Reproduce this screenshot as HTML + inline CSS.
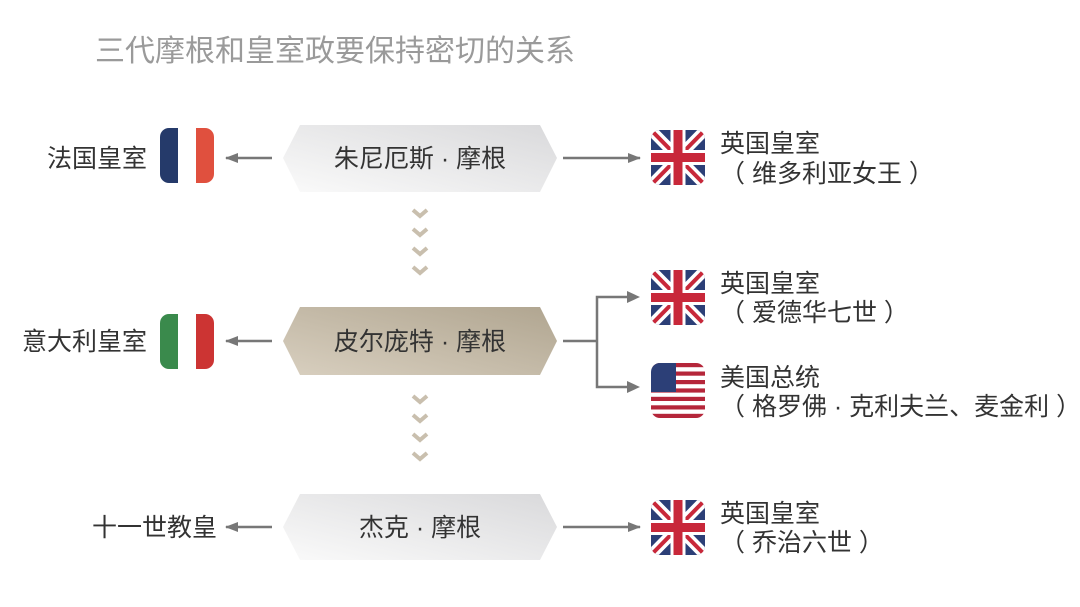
<!DOCTYPE html>
<html><head><meta charset="utf-8"><style>
body{margin:0;background:#fff;}
svg text{font-family:"Liberation Sans","Noto Sans CJK SC",sans-serif;fill:#333;}
</style></head><body>
<svg width="1080" height="602" viewBox="0 0 1080 602" xmlns="http://www.w3.org/2000/svg">
<defs>
<linearGradient id="g1" x1="0" y1="1" x2="1" y2="0"><stop offset="0" stop-color="#fafafa"/><stop offset="1" stop-color="#d9d9db"/></linearGradient>
<linearGradient id="g2" x1="0" y1="1" x2="1" y2="0"><stop offset="0" stop-color="#d8cfbf"/><stop offset="1" stop-color="#b0a590"/></linearGradient>
<marker id="ah" markerWidth="13" markerHeight="10" refX="12" refY="5" orient="auto" markerUnits="userSpaceOnUse"><path d="M0,0 L13,5 L0,10 Z" fill="#777"/></marker>
<clipPath id="cf"><rect x="0" y="0" width="54" height="55" rx="9"/></clipPath>
<g id="uk"><g clip-path="url(#cf)"><rect width="54" height="55" fill="#2c3f77"/>
<path d="M0,0L54,55M54,0L0,55" stroke="#fff" stroke-width="11"/>
<path d="M0,0L54,55M54,0L0,55" stroke="#c8283a" stroke-width="4"/>
<path d="M27,0V55M0,27.5H54" stroke="#fff" stroke-width="15"/>
<path d="M27,0V55M0,27.5H54" stroke="#c8283a" stroke-width="9"/></g></g>
<g id="chev"><path d="M-7,-4 L0,2 L7,-4" fill="none" stroke="#c9bfae" stroke-width="4"/></g>
</defs>
<text x="95" y="61" font-size="30" style="fill:#9a9a9a">三代摩根和皇室政要保持密切的关系</text>

<polygon points="283,158 300,125 540,125 557,158 540,192 300,192" fill="url(#g1)"/>
<polygon points="283,341 300,307 540,307 557,341 540,375 300,375" fill="url(#g2)"/>
<polygon points="283,527 300,494 540,494 557,527 540,560 300,560" fill="url(#g1)"/>
<g font-size="25">
<text x="420" y="167" text-anchor="middle">朱尼厄斯 · 摩根</text>
<text x="420" y="350" text-anchor="middle">皮尔庞特 · 摩根</text>
<text x="420" y="536" text-anchor="middle">杰克 · 摩根</text>
</g>

<use href="#chev" x="420" y="214"/><use href="#chev" x="420" y="233"/><use href="#chev" x="420" y="252"/><use href="#chev" x="420" y="271"/>
<use href="#chev" x="420" y="400"/><use href="#chev" x="420" y="419"/><use href="#chev" x="420" y="438"/><use href="#chev" x="420" y="457"/>

<g stroke="#777" stroke-width="2.5" fill="none">
<line x1="272" y1="158" x2="226" y2="158" marker-end="url(#ah)"/>
<line x1="272" y1="341" x2="226" y2="341" marker-end="url(#ah)"/>
<line x1="272" y1="527" x2="226" y2="527" marker-end="url(#ah)"/>
<line x1="563" y1="158" x2="640" y2="158" marker-end="url(#ah)"/>
<line x1="563" y1="527" x2="640" y2="527" marker-end="url(#ah)"/>
<line x1="563" y1="341" x2="597" y2="341"/>
<polyline points="630,297 597,297 597,387 630,387"/>
</g>
<polygon points="627,291 640,297 627,303" fill="#777"/>
<polygon points="627,381 640,387 627,393" fill="#777"/>

<g transform="translate(160,128)"><g clip-path="url(#cf)"><rect width="18" height="55" fill="#253a6a"/><rect x="18" width="18" height="55" fill="#fff"/><rect x="36" width="18" height="55" fill="#e0503e"/></g></g>
<g transform="translate(160,314)"><g clip-path="url(#cf)"><rect width="18" height="55" fill="#3a8a4c"/><rect x="18" width="18" height="55" fill="#fff"/><rect x="36" width="18" height="55" fill="#cc3433"/></g></g>
<use href="#uk" x="651" y="130"/>
<use href="#uk" x="651" y="270"/>
<use href="#uk" x="651" y="500"/>
<g transform="translate(651,363)"><g clip-path="url(#cf)"><rect width="54" height="55" fill="#fff"/>
<g fill="#b5263a"><rect y="0" width="54" height="4.2"/><rect y="8.5" width="54" height="4.2"/><rect y="17" width="54" height="4.2"/><rect y="25.4" width="54" height="4.2"/><rect y="33.8" width="54" height="4.2"/><rect y="42.3" width="54" height="4.2"/><rect y="50.8" width="54" height="4.2"/></g>
<rect width="25" height="29" fill="#2c3f77"/></g></g>

<g font-size="25">
<text x="147" y="167" text-anchor="end">法国皇室</text>
<text x="147" y="350" text-anchor="end">意大利皇室</text>
<text x="217" y="536" text-anchor="end">十一世教皇</text>
<text x="720" y="152">英国皇室</text>
<text x="720" y="182">（ 维多利亚女王 ）</text>
<text x="720" y="292">英国皇室</text>
<text x="720" y="321">（ 爱德华七世 ）</text>
<text x="720" y="386">美国总统</text>
<text x="720" y="415">（ 格罗佛 · 克利夫兰、麦金利 ）</text>
<text x="720" y="522">英国皇室</text>
<text x="720" y="551">（ 乔治六世 ）</text>
</g>
</svg>
</body></html>
